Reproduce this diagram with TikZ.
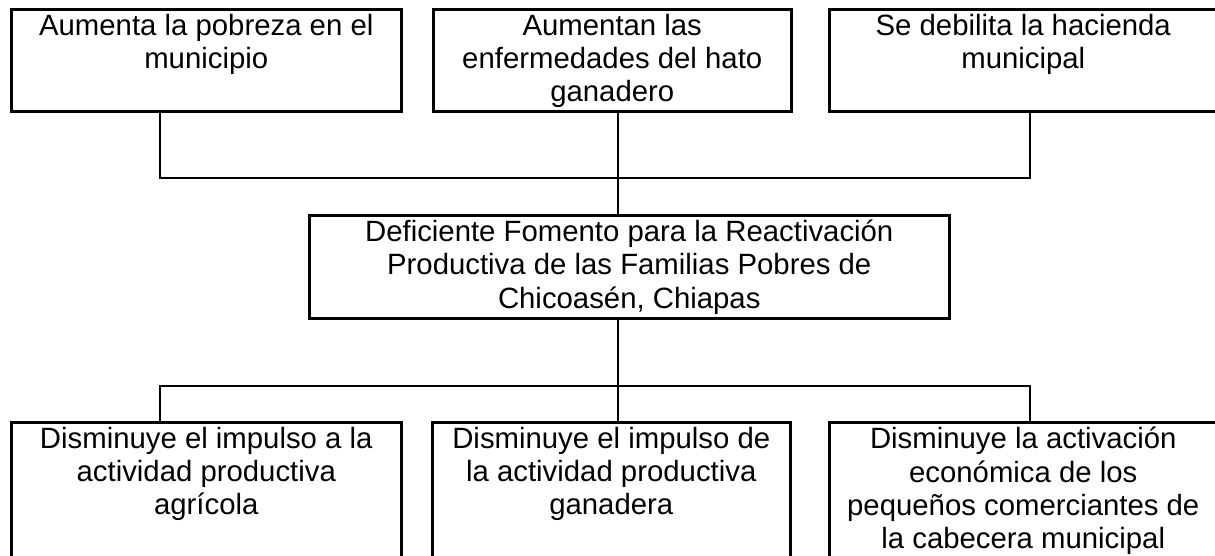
\documentclass[tikz,border=0pt]{standalone}
\usepackage{fontspec}
\setmainfont{Liberation Sans}
\usepackage{tikz}
\usetikzlibrary{positioning}

\begin{document}
\begin{tikzpicture}[
                x=0.75pt, y=-0.75pt,
                font=\fontsize{22}{25}\selectfont,
                line width=1.9pt,
                txt/.style={anchor=north, align=center, inner sep=3.6pt, execute at begin node=\strut},
                effbox/.style={draw, anchor=north west, minimum height=76.5pt},
                corebox/.style={draw, anchor=north west, minimum width=480pt, minimum height=77.25pt},
                causebox/.style={draw, anchor=north west, minimum height=120pt},
                link/.style={draw}
            ]
            \clip (0,0) rectangle (1215,556);
            % efectos
            \node[effbox, minimum width=292.5pt, label={[txt]north:{Aumenta la pobreza en el\\municipio}}] (eff1) at (10,8) {};
            \node[effbox, minimum width=268.5pt, label={[txt]north:{Aumentan las\\enfermedades del hato\\ganadero}}] (eff2) at (432,8) {};
            \node[effbox, minimum width=291pt, label={[txt]north:{Se debilita la hacienda\\municipal}}] (eff3) at (828,8) {};
            % problema central
            \node[corebox, label={[txt]north:{Deficiente Fomento para la Reactivación\\Productiva de las Familias Pobres de\\Chicoasén, Chiapas}}] (core) at (308,214) {};
            % causas
            \node[causebox, minimum width=292.5pt, label={[txt]north:{Disminuye el impulso a la\\actividad productiva\\agrícola}}] (cause1) at (10,421) {};
            \node[causebox, minimum width=268.5pt, label={[txt]north:{Disminuye el impulso de\\la actividad productiva\\ganadera}}] (cause2) at (431,421) {};
            \node[causebox, minimum width=291pt, label={[txt]north:{Disminuye la activación\\económica de los\\pequeños comerciantes de\\la cabecera municipal}}] (cause3) at (828,421) {};
            % uniones
            \coordinate (upL) at (160,178);
            \coordinate (upM) at (618,178);
            \coordinate (upR) at (1030,178);
            \coordinate (dnL) at (160,386);
            \coordinate (dnM) at (618,386);
            \coordinate (dnR) at (1030,386);
            \draw[link] (eff1.south -| upL) -- (upL) -- (upR) -- (eff3.south -| upR);
            \draw[link] (eff2.south -| upM) -- (core.north -| upM);
            \draw[link] (cause1.north -| dnL) -- (dnL) -- (dnR) -- (cause3.north -| dnR);
            \draw[link] (core.south -| dnM) -- (cause2.north -| dnM);
        \end{tikzpicture}
\end{document}
